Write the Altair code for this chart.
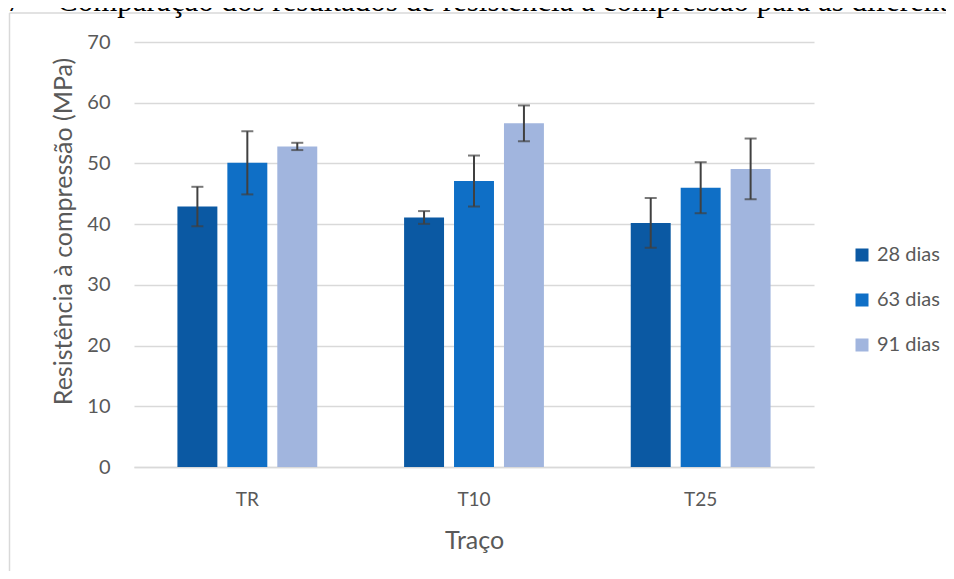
import altair as alt
import pandas as pd

tracos = ["TR", "T10", "T25"]
idades = ["28 dias", "63 dias", "91 dias"]
media_28 = [42.9, 41.1, 40.2]
media_63 = [50.1, 47.1, 46.0]
media_91 = [52.8, 56.6, 49.1]
desvio_28 = [3.25, 1.05, 4.1]
desvio_63 = [5.2, 4.2, 4.2]
desvio_91 = [0.6, 2.95, 5.0]
cores = ["#0B59A3", "#0F6FC6", "#A1B5DE"]

titulo_num = "27"
titulo_txt = "Comparação dos resultados de resistência à compressão para as diferentes idades"

rows = []
for medias, desvios, idade in [(media_28, desvio_28, idades[0]),
                               (media_63, desvio_63, idades[1]),
                               (media_91, desvio_91, idades[2])]:
    for t, m, d in zip(tracos, medias, desvios):
        rows.append({"traco": t, "idade": idade, "media": m, "desvio": d})
df = pd.DataFrame(rows)

FONT = "Lato"
GRAY = "#595959"

base = alt.Chart(df).transform_calculate(
    lo="datum.media - datum.desvio", hi="datum.media + datum.desvio"
)

x_enc = alt.X(
    "traco:N", sort=tracos,
    scale=alt.Scale(paddingInner=0.339, paddingOuter=0.1695),
    axis=alt.Axis(title="Traço", labelAngle=0, labelFontSize=19, labelPadding=23,
                  labelColor=GRAY, labelFont=FONT, titleFont=FONT, titleFontSize=25,
                  titleColor=GRAY, titleFontWeight="normal", titleY=73, titleBaseline="middle",
                  ticks=False, domainColor="#d9d9d9", domainWidth=1.5, grid=False),
)
xo_enc = alt.XOffset("idade:N", sort=idades, scale=alt.Scale(paddingInner=0.2, paddingOuter=0.1))
y_scale = alt.Scale(domain=[0, 70])

bars = base.mark_bar().encode(
    x=x_enc, xOffset=xo_enc,
    y=alt.Y("media:Q", scale=y_scale,
            axis=alt.Axis(title="Resistência à compressão (MPa)", values=[0, 10, 20, 30, 40, 50, 60, 70],
                          labelFontSize=20, labelColor=GRAY, labelFont=FONT, labelPadding=24,
                          titleFont=FONT, titleFontSize=25, titleColor=GRAY, titleFontWeight="normal",
                          titleX=-71, titleY=189, titleAngle=-90, titleAlign="center",
                          titleBaseline="middle",
                          domain=False, ticks=False, gridColor="#d9d9d9", gridWidth=1.5)),
    color=alt.Color("idade:N", sort=idades, scale=alt.Scale(domain=idades, range=cores),
                    legend=alt.Legend(title=None, orient="none", legendX=718, legendY=203,
                                      symbolType="square", symbolSize=169, symbolStrokeWidth=0,
                                      labelFontSize=20, labelFont=FONT, labelColor=GRAY,
                                      rowPadding=25, padding=0, labelOffset=5)),
)

stems = base.mark_rule(color="#404040", strokeWidth=2).encode(
    x=alt.X("traco:N", sort=tracos), xOffset=xo_enc,
    y=alt.Y("lo:Q", scale=y_scale), y2="hi:Q",
)
cap_hi = base.mark_tick(color="#404040", thickness=2, size=12, orient="horizontal").encode(
    x=alt.X("traco:N", sort=tracos), xOffset=xo_enc, y=alt.Y("hi:Q", scale=y_scale),
)
cap_lo = base.mark_tick(color="#404040", thickness=2, size=12, orient="horizontal").encode(
    x=alt.X("traco:N", sort=tracos), xOffset=xo_enc, y=alt.Y("lo:Q", scale=y_scale),
)

frame_df = pd.DataFrame({"k": [0]})
frame_v = alt.Chart(frame_df).mark_rule(color="#d9d9d9", strokeWidth=1.5).encode(
    x=alt.value(-124.5), y=alt.value(-29), y2=alt.value(600))
frame_h = alt.Chart(frame_df).mark_rule(color="#d9d9d9", strokeWidth=1.5).encode(
    x=alt.value(-124.5), x2=alt.value(900), y=alt.value(-29))

t1 = alt.Chart(pd.DataFrame({"t": [titulo_num]})).mark_text(
    font="Liberation Serif", fontSize=31, align="right", baseline="alphabetic", color="#000000"
).encode(text="t:N", x=alt.value(-112), y=alt.value(-31))
t2 = alt.Chart(pd.DataFrame({"t": [titulo_txt]})).mark_text(
    font="Liberation Serif", fontSize=31, align="left", baseline="alphabetic", color="#000000"
).encode(text="t:N", x=alt.value(-77), y=alt.value(-31))

chart = alt.layer(bars, stems, cap_hi, cap_lo, frame_v, frame_h, t1, t2).properties(
    width=680, height=425,
    autosize=alt.AutoSizeParams(type="none"),
    padding={"left": 126, "top": 34, "right": 132, "bottom": 104},
).configure_view(stroke=None)

chart.save("out.html", embed_options={"renderer": "svg", "actions": False})
